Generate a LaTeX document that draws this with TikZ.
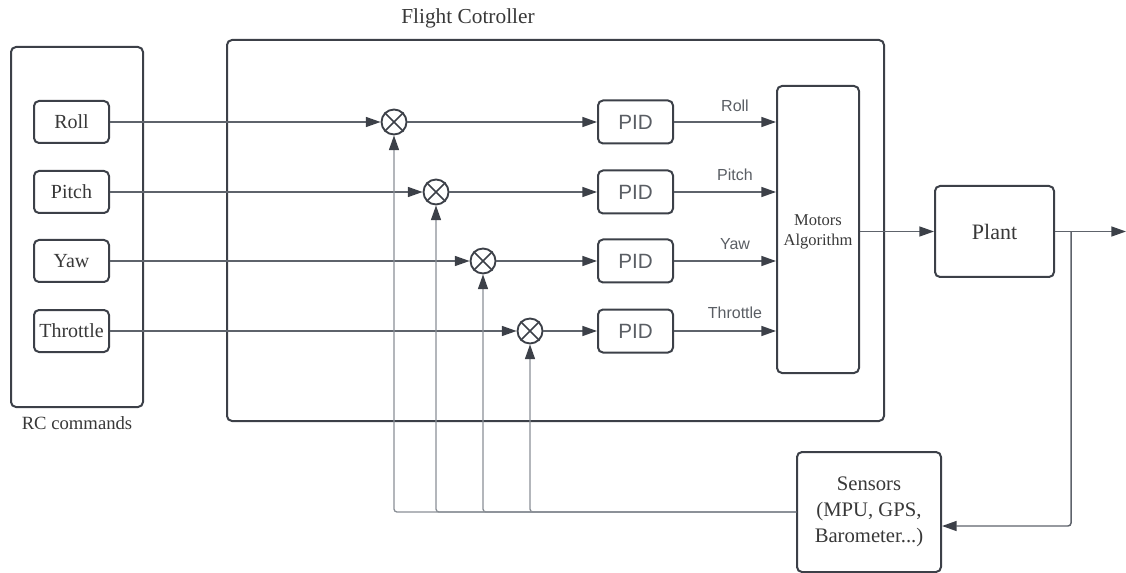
\documentclass[tikz,border=0pt]{standalone}
\usepackage{fontspec}
\setmainfont{Liberation Serif}
\newfontfamily\labsans{Liberation Sans}
\usetikzlibrary{arrows.meta}
\newdimen\pxu \pxu=0.75pt
\definecolor{boxc}{HTML}{3C4048}
\definecolor{linec}{HTML}{5E636B}
\definecolor{fbc}{HTML}{8A8F96}
\definecolor{txtc}{HTML}{383838}
\definecolor{labc}{HTML}{5A5E64}
\begin{document}
\begin{tikzpicture}[x=0.75pt,y=-0.75pt,
  box/.style={draw=boxc, line width=1.5pt, rounded corners=5\pxu, inner sep=0pt, text=txtc, align=center},
  rcbox/.style={box, minimum width=75\pxu, minimum height=42\pxu, font=\fontsize{15}{18}\selectfont},
  pidbox/.style={box, minimum width=75\pxu, minimum height=43\pxu, font=\labsans\fontsize{15.5}{18}\selectfont, text=labc},
  sumnode/.style={circle, draw=boxc, line width=1.4pt, minimum size=25\pxu, inner sep=0pt},
  tip/.style={-{Triangle[length=11pt,width=7.5pt,color=boxc]}},
  conn/.style={draw=linec, line width=1.1pt},
  fb/.style={draw=fbc, line width=1pt, rounded corners=3\pxu},
  lab/.style={font=\labsans\fontsize{12}{14}\selectfont, text=labc},
  ttl/.style={text=txtc}
]
\useasboundingbox (0,0) rectangle (1126,573);

% outer frames
\node[box, minimum width=132\pxu, minimum height=360\pxu] (rc) at (77,227) {};
\node[ttl, font=\fontsize{14}{16}\selectfont] (rclab) at (77,423) {RC commands};
\node[box, minimum width=657\pxu, minimum height=381\pxu] (fc) at (555.5,230.5) {};
\node[ttl, font=\fontsize{16}{18}\selectfont] (fclab) at (468,18) {Flight Cotroller};

% RC command boxes
\node[rcbox] (r1) at (71.5,122) {Roll};
\node[rcbox] (r2) at (71.5,192) {Pitch};
\node[rcbox] (r3) at (71.5,261) {Yaw};
\node[rcbox] (r4) at (71.5,331) {Throttle};

% summing junctions
\node[sumnode] (s1) at (394,122) {};
\node[sumnode] (s2) at (436,192) {};
\node[sumnode] (s3) at (483,261) {};
\node[sumnode] (s4) at (530,331) {};
\foreach \s in {s1,s2,s3,s4}{
  \draw[boxc, line width=1.3pt] (\s.north east) -- (\s.south west) (\s.north west) -- (\s.south east);
}

% PID boxes
\node[pidbox] (p1) at (635.5,122) {PID};
\node[pidbox] (p2) at (635.5,192) {PID};
\node[pidbox] (p3) at (635.5,261) {PID};
\node[pidbox] (p4) at (635.5,331) {PID};

% motors, plant, sensors
\node[box, minimum width=82\pxu, minimum height=287\pxu, font=\fontsize{12.4}{14}\selectfont] (mot) at (818,229.5) {};
\node[ttl, font=\fontsize{12.4}{14.5}\selectfont, align=center] (motlab) at (818,232) {Motors\\Algorithm};
\node[box, minimum width=119\pxu, minimum height=91\pxu, font=\fontsize{16.5}{19}\selectfont] (plant) at (994.5,231.5) {Plant};
\node[box, minimum width=144\pxu, minimum height=120\pxu, font=\fontsize{15.5}{19.5}\selectfont] (sens) at (869,512) {Sensors\\(MPU, GPS,\\Barometer...)};

\coordinate (out) at (1126,231.5);
\coordinate (br) at (1071,231.5);

% feed-forward connectors
\foreach \i in {1,2,3,4}{
  \draw[conn, tip] (r\i.east) -- (r\i.east -| s\i.west);
  \draw[conn, tip] (s\i.east) -- (s\i.east -| p\i.west);
  \draw[conn, tip] (p\i.east) -- (p\i.east -| mot.west);
}
\node[lab] (l1) at (735,106) {Roll};
\node[lab] (l2) at (735,175) {Pitch};
\node[lab] (l3) at (735,244) {Yaw};
\node[lab] (l4) at (735,313) {Throttle};

\draw[conn, tip] (plant.west -| mot.east) -- (plant.west);
\draw[conn, tip] (plant.east) -- (out);
\draw[conn, tip, rounded corners=3\pxu] (br) |- (sens.east |- 0,526);

% feedback
\foreach \s in {s1,s2,s3,s4}{
  \draw[fb, tip] (sens.west) -| (\s.south);
}
\end{tikzpicture}
\end{document}
